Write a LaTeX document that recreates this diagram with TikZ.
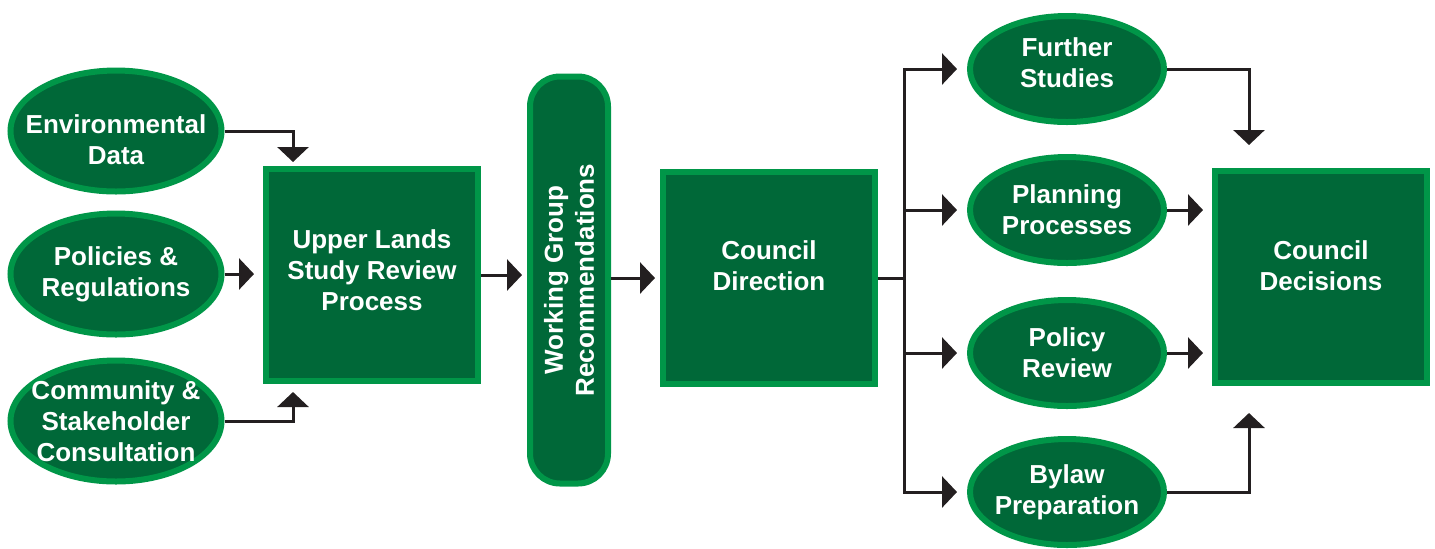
\documentclass[tikz,border=0pt]{standalone}
\usepackage{fontspec}
\setmainfont{Liberation Sans}
\usetikzlibrary{arrows.meta,positioning,shapes.geometric}
\definecolor{leaf}{HTML}{006838}
\definecolor{rim}{HTML}{009648}
\definecolor{ink}{HTML}{231F20}
\tikzset{
  boxtext/.style={text=white,font=\fontsize{13}{15.5}\selectfont\bfseries,
                  align=center,inner sep=0pt},
  inputoval/.style={ellipse,draw=rim,fill=leaf,line width=3pt,inner sep=0pt,
                    minimum width=105.5pt,minimum height=60.5pt},
  outcomeoval/.style={ellipse,draw=rim,fill=leaf,line width=3pt,inner sep=0pt,
                      minimum width=97pt,minimum height=53pt},
  stepbox/.style={rectangle,draw=rim,fill=leaf,line width=3pt,inner sep=0pt,
                  minimum width=106pt,minimum height=106pt},
  groupbar/.style={rectangle,rounded corners=15pt,draw=rim,fill=leaf,line width=3pt,
                   inner sep=0pt,minimum width=39pt,minimum height=203.5pt},
  flowarr/.style={-{Triangle[length=7.5pt,width=15.5pt]},line width=1.5pt,
                  color=ink,shorten >=2.5pt},
  trunk/.style={line width=1.5pt,color=ink}
}

\begin{document}
\begin{tikzpicture}[x=0.5pt,y=-0.5pt]
  \useasboundingbox (0,0) rectangle (1435,548);
  % inputs
  \node[inputoval,label={[boxtext,yshift=-4.5pt]center:{Environmental\\Data}}] (env) at (116,131) {};
  \node[inputoval,label={[boxtext]center:{Policies \&\\Regulations}}] (pol) at (116,274) {};
  \node[inputoval,label={[boxtext]center:{Community \&\\Stakeholder\\Consultation}}] (com) at (116,421) {};
  % main chain
  \node[stepbox,label={[boxtext,yshift=2.5pt]center:{Upper Lands\\Study Review\\Process}}] (up) at (372,275) {};
  \node[groupbar,label={[boxtext,rotate=90]center:{Working Group\\Recommendations}}] (wg) at (569,280) {};
  \node[stepbox,label={[boxtext,yshift=6pt]center:{Council\\Direction}}] (cdir) at (769,278) {};
  % outcomes
  \node[outcomeoval,label={[boxtext,yshift=3pt]center:{Further\\Studies}}] (further) at (1067,69) {};
  \node[outcomeoval,label={[boxtext]center:{Planning\\Processes}}] (plan) at (1067,210) {};
  \node[outcomeoval,label={[boxtext]center:{Policy\\Review}}] (polrev) at (1067,353) {};
  \node[outcomeoval,label={[boxtext]center:{Bylaw\\Preparation}}] (bylaw) at (1067,492) {};
  \node[stepbox,label={[boxtext,yshift=5.5pt]center:{Council\\Decisions}}] (dec) at (1321,277) {};

  % connectors
  \draw[flowarr,shorten >=2pt] (env.east) -| ([xshift=15pt]up.north west);
  \draw[flowarr,shorten >=4.5pt] (pol.east) -- (pol.east -| up.west);
  \draw[flowarr,shorten >=4pt] (com.east) -| ([xshift=15pt]up.south west);
  \draw[flowarr] (up.east) -- (up.east -| wg.west);
  \draw[flowarr] (wg.east |- cdir.west) -- (cdir.west);

  \coordinate (split) at (904,278);
  \draw[trunk] (cdir.east) -- (split);
  \draw[flowarr,shorten >=5pt] (split) |- (further.west);
  \draw[flowarr,shorten >=5pt] (split) |- (plan.west);
  \draw[flowarr,shorten >=5pt] (split) |- (polrev.west);
  \draw[flowarr,shorten >=5pt] (split) |- (bylaw.west);

  \draw[flowarr,shorten >=11.5pt] (further.east) -| ([xshift=18.5pt]dec.north west);
  \draw[flowarr,shorten >=4.5pt] (plan.east) -- (plan.east -| dec.west);
  \draw[flowarr,shorten >=4.5pt] (polrev.east) -- (polrev.east -| dec.west);
  \draw[flowarr,shorten >=13.5pt] (bylaw.east) -| ([xshift=18.5pt]dec.south west);
\end{tikzpicture}
\end{document}
